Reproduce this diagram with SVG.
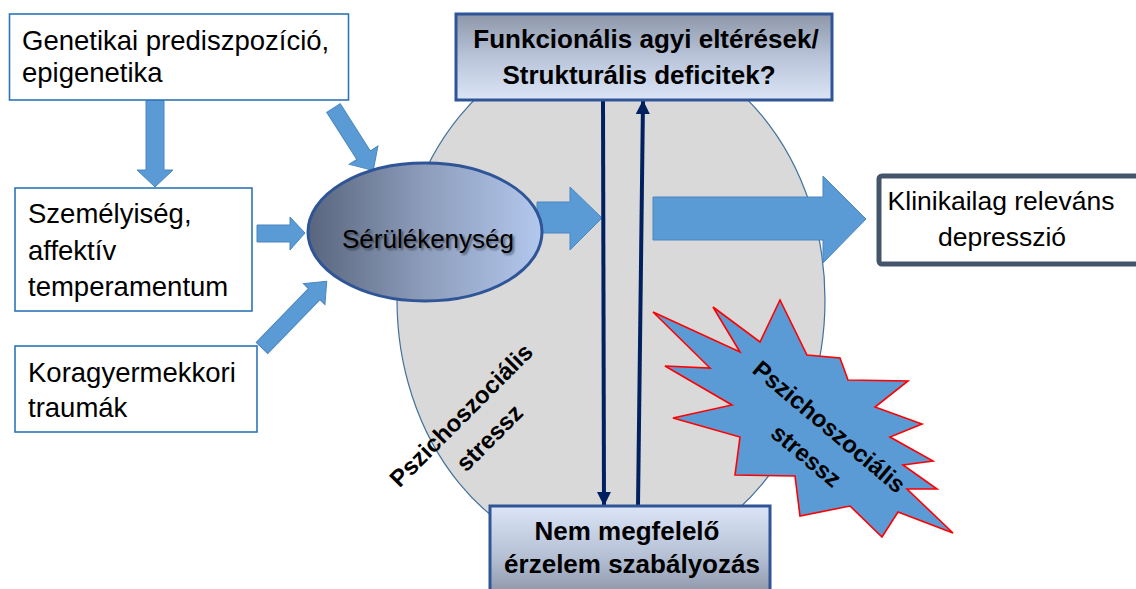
<svg xmlns="http://www.w3.org/2000/svg" width="1136" height="589" viewBox="0 0 1136 589">
<defs>
<style>
.t{font-family:"Liberation Sans",Arial,sans-serif;fill:#000}
.r{font-size:27.5px}
.b{font-weight:bold;font-size:26px}
.rot{font-weight:bold;font-size:24px}
.lbox{fill:#fff;stroke:#2e75b6;stroke-width:1.6}
.blk{fill:#5b9bd5;stroke:#4a86c0;stroke-width:1}
.nav{stroke:#002060;stroke-width:4;fill:none}
</style>
<linearGradient id="gTop" x1="0" y1="0" x2="0" y2="1">
<stop offset="0" stop-color="#8e97a9"/>
<stop offset="0.5" stop-color="#b9c4d9"/>
<stop offset="1" stop-color="#dbe5f6"/>
</linearGradient>
<linearGradient id="gBot" x1="0" y1="0" x2="0" y2="1">
<stop offset="0" stop-color="#dbe5f6"/>
<stop offset="0.55" stop-color="#b5c0d5"/>
<stop offset="1" stop-color="#8a92a4"/>
</linearGradient>
<linearGradient id="gEl" x1="0" y1="0" x2="1" y2="0">
<stop offset="0" stop-color="#59657d"/>
<stop offset="0.5" stop-color="#8d9dbb"/>
<stop offset="1" stop-color="#b3c8ee"/>
</linearGradient>
<marker id="ah" viewBox="0 0 14 14" refX="13" refY="7" markerWidth="14" markerHeight="14" markerUnits="userSpaceOnUse" orient="auto">
<path d="M0,0 L14,7 L0,14 Z" fill="#002060"/>
</marker>
<filter id="sh" x="-10%" y="-30%" width="120%" height="160%">
<feGaussianBlur stdDeviation="1.2"/>
</filter>
</defs>
<rect width="1136" height="589" fill="#fff"/>

<g id="background">
<ellipse cx="611" cy="300" rx="214" ry="260" fill="#d9d9d9" stroke="#41719c" stroke-width="1.2"/>
</g>

<g id="connectors">
<polygon class="blk" points="146,100 164,100 164,170 173,170 155,187 137,170 146,170"/>
<polygon class="blk" transform="translate(333.5,108) rotate(57.5)" points="0,-8 56,-8 56,-17 74,0 56,17 56,8 0,8"/>
<polygon class="blk" points="257,225 290,225 290,217 305,233 290,250 290,242 257,242"/>
<polygon class="blk" transform="translate(262,348) rotate(-45.9)" points="0,-8 75,-8 75,-15 93,0 75,15 75,8 0,8"/>
<polygon class="blk" points="537,202 570,202 570,187 602,218 570,250 570,233 537,233"/>
<polygon class="blk" points="653,197 823,197 823,176 866,219 823,263 823,240 653,240"/>
<line class="nav" x1="603" y1="100" x2="604" y2="505" marker-end="url(#ah)"/>
<line class="nav" x1="638" y1="506" x2="643" y2="101" marker-end="url(#ah)"/>
</g>

<g id="node-genetika">
<rect class="lbox" x="9.5" y="14" width="339" height="86"/>
<text class="t r" x="22" y="50">Genetikai prediszpozíció,</text>
<text class="t r" x="22" y="82">epigenetika</text>
</g>

<g id="node-szemelyiseg">
<rect class="lbox" x="15" y="188" width="237" height="123"/>
<text class="t r" x="28" y="223">Személyiség,</text>
<text class="t r" x="28" y="260">affektív</text>
<text class="t r" x="28" y="296">temperamentum</text>
</g>

<g id="node-trauma">
<rect class="lbox" x="15" y="346" width="242" height="86"/>
<text class="t r" x="28" y="382">Koragyermekkori</text>
<text class="t r" x="28" y="417">traumák</text>
</g>

<g id="node-serulekenyseg">
<ellipse cx="425" cy="232" rx="117" ry="69" fill="url(#gEl)" stroke="#2f5597" stroke-width="3"/>
<text class="t" x="430" y="250" text-anchor="middle" font-size="26" fill="#000" opacity="0.45" filter="url(#sh)">Sérülékenység</text>
<text class="t" x="428" y="248" text-anchor="middle" font-size="26">Sérülékenység</text>
</g>

<g id="node-agyi">
<rect x="456" y="14" width="376" height="86" fill="url(#gTop)" stroke="#2f5597" stroke-width="3"/>
<text class="t b" x="646" y="48" text-anchor="middle">Funkcionális agyi eltérések/</text>
<text class="t b" x="639" y="84" text-anchor="middle">Strukturális deficitek?</text>
</g>

<g id="node-erzelem">
<rect x="490" y="506" width="280" height="92" fill="url(#gBot)" stroke="#2f5597" stroke-width="3"/>
<text class="t b" x="627" y="540" text-anchor="middle">Nem megfelelő</text>
<text class="t b" x="632" y="573" text-anchor="middle">érzelem szabályozás</text>
</g>

<g id="node-depresszio">
<rect x="879" y="176" width="280" height="88" rx="3" fill="#fff" stroke="#44546a" stroke-width="5"/>
<text class="t" x="1001" y="210" text-anchor="middle" font-size="26.5">Klinikailag releváns</text>
<text class="t" x="1002" y="246" text-anchor="middle" font-size="26.5">depresszió</text>
</g>

<g id="label-stressz-ellipse">
<g transform="translate(467,421) rotate(-45)">
<text class="t rot" x="0" y="0" text-anchor="middle">Pszichoszociális</text>
<text class="t rot" x="4" y="36" text-anchor="middle">stressz</text>
</g>
</g>

<g id="node-stressz-star">
<polygon points="653,312 740,352 713,307 760,342 780,300 807,355 840,358 848,380 908,381 875,407 922,424 890,437 933,461 903,465 937,489 907,489 953,533 898,512 882,537 850,506 800,516 795,476 735,475 740,437 673,418 732,405 665,366 710,368" fill="#5b9bd5" stroke="#ff0000" stroke-width="1.6" stroke-linejoin="miter"/>
<g transform="translate(824,433) rotate(40)">
<text class="t rot" x="0" y="0" text-anchor="middle">Pszichoszociális</text>
<text class="t rot" x="1" y="37" text-anchor="middle">stressz</text>
</g>
</g>
</svg>
